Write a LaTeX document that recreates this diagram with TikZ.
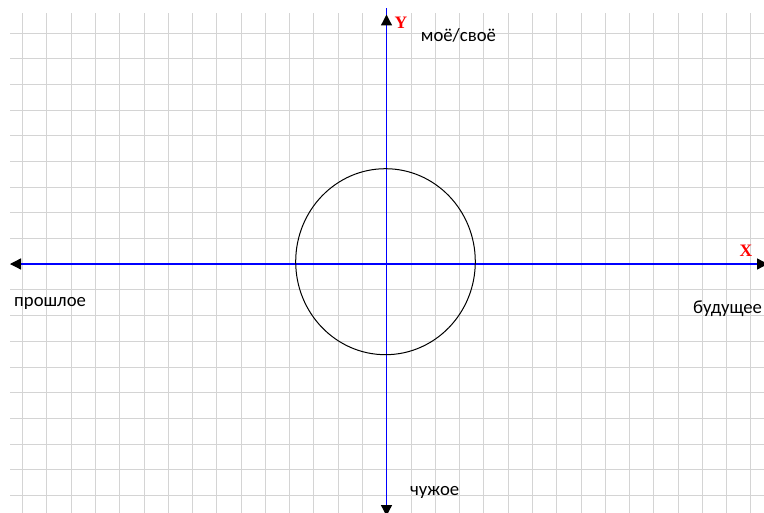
\documentclass[tikz,border=0pt]{standalone}
\usepackage{fontspec}
\setmainfont{Carlito}
\newfontfamily\axfont{Liberation Serif}
\usetikzlibrary{arrows.meta,shapes.geometric}
\definecolor{gridgray}{HTML}{D4D4D4}
\definecolor{axisblue}{HTML}{0000FF}
\definecolor{axred}{HTML}{FF0000}
\tikzset{
  gridline/.style={draw=gridgray, line width=1.2pt},
  axisline/.style={draw=axisblue, line width=1.3pt},
  axistip/.style={draw=axisblue, line width=1.3pt, -{Triangle[width=11pt,length=11pt,color=black]}},
  lbl/.style={inner sep=0pt, anchor=base west, font=\fontsize{18.7}{22}\selectfont},
  axlbl/.style={inner sep=0pt, anchor=base west, text=axred, font=\axfont\bfseries\fontsize{17.5}{20}\selectfont},
  ring/.style={draw=black, line width=1pt}
}
\begin{document}
\begin{tikzpicture}[x=1pt,y=-1pt]
\useasboundingbox (0,0) rectangle (764,513);
\clip (0,0) rectangle (764,513);
\fill[white] (0,0) rectangle (764,513);
% grid
\foreach \k in {0,...,30} {
  \pgfmathsetmacro\gx{floor(22.6+24.28*\k)+0.5}
  \draw[gridline] (\gx,13.3) -- (\gx,513);
}
\foreach \k in {0,...,18} {
  \pgfmathsetmacro\gy{floor(33+25.7*\k)+0.5}
  \draw[gridline] (10,\gy) -- (764,\gy);
}
% axes
\coordinate (o) at (386.5,264);
\coordinate (xl) at (10,264);
\coordinate (xr) at (768,264);
\coordinate (yt) at (386.5,14.5);
\coordinate (yb) at (386.5,516);
\draw[axisline] ([xshift=6pt]xl) -- ([xshift=-6pt]xr);
\draw[axisline] ([yshift=-6pt]yb) -- ([yshift=6pt]yt);
\draw[axistip] (o) -- (xl);
\draw[axistip] (o) -- (xr);
\draw[axistip] (o) -- (yt);
\draw[axistip] (o) -- (yb);
% circle
\node[ring, ellipse, minimum width=179.6pt, minimum height=186pt, inner sep=0pt] (circ) at (385.5,261.7) {};
% labels
\node[axlbl] (ylab) at (394.5,29) {Y};
\node[axlbl] (xlab) at (739.5,257) {X};
\node[lbl] (top) at (420.7,41.7) {моё/своё};
\node[lbl] (right) at (693,314) {будущее};
\node[lbl] (left) at (14,306.7) {прошлое};
\node[lbl] (bottom) at (410,495) {чужое};
\end{tikzpicture}
\end{document}
